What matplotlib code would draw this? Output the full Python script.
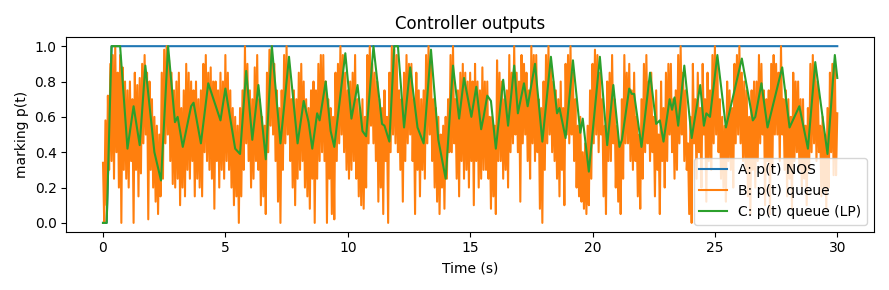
import numpy as np
import matplotlib
matplotlib.use("Agg")
import matplotlib.pyplot as plt

# A: p(t) NOS - a step up to 1 right at the start
t_a = [0.0, 0.15, 0.35, 30.0]
p_a = [0.0, 0.0, 1.0, 1.0]

t_b = np.linspace(0, 30, 601)
p_b = [
    0.34, 0.00, 0.58, 0.10, 0.72, 0.30, 0.90, 0.35, 0.95, 0.25, 1.00, 0.40, 0.85, 0.20, 0.95, 0.00, 0.88, 0.30, 0.80, 0.25,
    0.75, 0.20, 0.80, 0.35, 0.70, 0.00, 0.85, 0.30, 0.78, 0.15, 0.82, 0.28, 0.90, 0.45, 0.95, 0.50, 0.85, 0.02, 0.80, 0.30,
    0.70, 0.20, 0.60, 0.12, 0.55, 0.05, 0.50, 0.15, 0.85, 0.25, 0.98, 0.45, 1.00, 0.50, 0.92, 0.35, 0.85, 0.22, 0.75, 0.20,
    0.80, 0.25, 0.85, 0.10, 0.65, 0.20, 0.75, 0.15, 0.90, 0.30, 0.85, 0.25, 0.80, 0.35, 0.75, 0.15, 0.80, 0.25, 0.70, 0.20,
    0.75, 0.15, 0.90, 0.40, 0.95, 0.35, 0.85, 0.30, 0.88, 0.25, 0.80, 0.08, 0.80, 0.35, 0.75, 0.20, 0.85, 0.30, 0.80, 0.25,
    0.95, 0.35, 0.85, 0.30, 0.75, 0.20, 0.65, 0.10, 0.60, 0.15, 0.55, 0.00, 0.65, 0.15, 0.75, 0.30, 1.00, 0.45, 0.90, 0.35,
    0.75, 0.20, 0.70, 0.25, 0.88, 0.35, 0.95, 0.30, 0.70, 0.10, 0.60, 0.15, 0.55, 0.05, 0.85, 0.40, 0.98, 0.55, 1.00, 0.50,
    0.90, 0.35, 0.75, 0.12, 0.65, 0.00, 0.75, 0.30, 0.95, 0.45, 1.00, 0.50, 0.90, 0.35, 0.70, 0.20, 0.75, 0.10, 0.70, 0.25,
    0.85, 0.30, 0.90, 0.35, 0.80, 0.20, 0.70, 0.15, 0.65, 0.08, 0.75, 0.25, 0.80, 0.00, 0.75, 0.25, 0.90, 0.35, 0.95, 0.40,
    0.95, 0.35, 0.80, 0.00, 0.70, 0.25, 0.65, 0.05, 0.60, 0.02, 0.85, 0.35, 0.90, 0.45, 1.00, 0.50, 0.95, 0.40, 0.85, 0.30,
    0.75, 0.25, 0.80, 0.30, 0.85, 0.35, 0.95, 0.25, 0.70, 0.15, 0.65, 0.10, 0.70, 0.08, 0.60, 0.20, 0.95, 0.45, 1.00, 0.55,
    0.90, 0.45, 0.85, 0.35, 0.80, 0.12, 0.70, 0.20, 0.65, 0.05, 0.75, 0.35, 0.60, 0.00, 0.85, 0.40, 1.00, 0.50, 0.98, 0.45,
    0.95, 0.40, 0.75, 0.30, 0.70, 0.12, 0.85, 0.35, 0.95, 0.45, 0.90, 0.50, 0.90, 0.35, 0.70, 0.05, 0.85, 0.30, 0.75, 0.15,
    0.70, 0.30, 0.75, 0.25, 0.95, 0.45, 1.00, 0.50, 0.90, 0.35, 0.70, 0.20, 0.65, 0.12, 0.60, 0.05, 0.50, 0.20, 0.55, 0.08,
    0.60, 0.25, 0.70, 0.40, 0.95, 0.40, 1.00, 0.45, 0.70, 0.25, 0.75, 0.15, 0.85, 0.35, 0.90, 0.25, 0.85, 0.30, 0.80, 0.20,
    0.85, 0.35, 0.80, 0.10, 0.90, 0.35, 0.80, 0.20, 0.75, 0.25, 0.88, 0.30, 0.80, 0.30, 0.80, 0.25, 0.60, 0.08, 0.60, 0.15,
    0.55, 0.05, 0.92, 0.35, 0.85, 0.35, 0.80, 0.25, 0.70, 0.30, 0.75, 0.20, 0.95, 0.40, 0.85, 0.45, 1.00, 0.50, 0.85, 0.40,
    0.80, 0.12, 0.95, 0.45, 0.90, 0.50, 0.85, 0.35, 0.75, 0.25, 1.00, 0.45, 0.95, 0.35, 0.95, 0.40, 0.70, 0.08, 0.65, 0.00,
    0.80, 0.30, 0.95, 0.45, 1.00, 0.50, 0.90, 0.40, 0.80, 0.35, 0.75, 0.25, 0.70, 0.15, 0.80, 0.30, 0.65, 0.10, 0.90, 0.50,
    0.95, 0.45, 1.00, 0.50, 0.85, 0.35, 0.70, 0.20, 0.55, 0.15, 0.60, 0.12, 0.40, 0.08, 0.45, 0.05, 0.55, 0.10, 0.75, 0.25,
    0.90, 0.45, 0.98, 0.50, 0.95, 0.40, 0.85, 0.50, 0.70, 0.15, 0.55, 0.05, 0.80, 0.35, 0.85, 0.35, 0.95, 0.45, 0.70, 0.20,
    0.55, 0.12, 0.45, 0.05, 0.70, 0.25, 0.95, 0.45, 0.85, 0.45, 0.90, 0.35, 0.75, 0.30, 0.85, 0.35, 0.60, 0.15, 0.50, 0.08,
    0.70, 0.25, 0.90, 0.40, 0.95, 0.45, 0.80, 0.35, 0.85, 0.40, 0.60, 0.15, 0.75, 0.30, 0.50, 0.05, 0.80, 0.35, 0.65, 0.20,
    0.85, 0.35, 0.90, 0.50, 0.90, 0.40, 0.70, 0.25, 0.75, 0.30, 0.95, 0.45, 1.00, 0.50, 0.85, 0.35, 0.75, 0.30, 0.45, 0.05,
    0.60, 0.00, 0.90, 0.45, 0.70, 0.25, 0.85, 0.40, 0.65, 0.20, 0.90, 0.50, 0.70, 0.12, 0.85, 0.35, 0.75, 0.30, 0.95, 0.45,
    1.00, 0.50, 0.90, 0.40, 0.70, 0.25, 0.60, 0.20, 0.55, 0.12, 0.80, 0.35, 0.75, 0.30, 0.65, 0.20, 0.90, 0.45, 0.95, 0.50,
    1.00, 0.45, 0.85, 0.35, 0.80, 0.30, 0.75, 0.15, 0.60, 0.05, 0.75, 0.30, 0.80, 0.20, 0.80, 0.35, 0.95, 0.45, 0.90, 0.50,
    0.75, 0.10, 0.70, 0.35, 0.75, 0.05, 0.90, 0.30, 0.95, 0.50, 0.90, 0.50, 0.85, 0.35, 1.00, 0.50, 0.70, 0.30, 0.75, 0.15,
    0.70, 0.25, 0.60, 0.08, 0.85, 0.35, 0.80, 0.40, 0.80, 0.30, 0.70, 0.20, 0.70, 0.25, 0.55, 0.10, 0.65, 0.30, 0.90, 0.40,
    0.95, 0.45, 0.85, 0.35, 0.80, 0.40, 0.55, 0.15, 0.60, 0.20, 0.50, 0.08, 0.65, 0.20, 0.85, 0.40, 0.90, 0.27, 0.90, 0.27,
    0.62,
]

# C: p(t) queue (LP) - peaks and valleys of the smoothed curve
t_c = [0.0, 0.15, 0.35, 0.7, 1.0, 1.25, 1.5, 1.73, 2.1, 2.37,
       2.66, 2.94, 3.05, 3.26, 3.6, 3.7, 4.0, 4.3, 4.8, 5.0,
       5.4, 5.6, 5.85, 6.1, 6.35, 6.65, 6.9, 7.25, 7.6, 7.95,
       8.2, 8.4, 8.55, 8.75, 8.85, 9.1, 9.3, 9.45, 9.9, 10.15,
       10.4, 10.6, 10.75, 11.05, 11.4, 11.5, 11.7, 11.9, 12.05, 12.3,
       12.55, 12.85, 13.1, 13.4, 13.7, 14.0, 14.3, 14.55, 14.75, 15.05,
       15.25, 15.45, 15.55, 15.7, 15.85, 16.05, 16.35, 16.55, 16.8, 16.95,
       17.2, 17.35, 17.65, 17.95, 18.3, 18.55, 18.65, 18.9, 19.2, 19.5,
       19.6, 19.85, 20.3, 20.6, 20.85, 21.1, 21.2, 21.5, 21.6, 21.7,
       22.0, 22.35, 22.6, 22.75, 22.9, 23.15, 23.25, 23.35, 23.5, 23.75,
       24.05, 24.4, 24.55, 24.65, 24.8, 25.1, 25.45, 26.1, 26.55, 26.65,
       26.9, 27.15, 27.75, 28.05, 28.45, 28.8, 29.1, 29.6, 29.9, 30.0]
p_c = [0.0, 0.0, 1.0, 1.0, 0.42, 0.66, 0.44, 0.89, 0.40, 0.24,
       1.0, 0.57, 0.60, 0.43, 0.66, 0.68, 0.45, 0.79, 0.58, 0.76,
       0.42, 0.39, 0.86, 0.47, 0.78, 0.36, 1.0, 0.45, 0.94, 0.45,
       0.69, 0.57, 0.42, 0.62, 0.58, 0.80, 0.52, 0.43, 0.96, 0.59,
       0.78, 0.52, 0.49, 1.0, 0.56, 0.55, 0.46, 1.0, 1.0, 0.54,
       0.88, 0.54, 0.45, 0.98, 0.47, 0.25, 0.89, 0.59, 0.82, 0.60,
       0.77, 0.53, 0.60, 0.72, 0.69, 0.42, 0.81, 0.55, 0.89, 0.62,
       0.79, 0.66, 0.90, 0.46, 0.94, 0.62, 0.65, 0.48, 0.92, 0.51,
       0.59, 0.29, 0.94, 0.44, 0.78, 0.43, 0.47, 0.76, 0.73, 0.73,
       0.43, 0.85, 0.56, 0.58, 0.46, 0.70, 0.64, 0.71, 0.55, 0.89,
       0.48, 0.78, 0.55, 0.62, 0.60, 0.95, 0.54, 0.93, 0.58, 0.60,
       0.79, 0.54, 0.88, 0.54, 0.66, 0.42, 0.91, 0.39, 0.95, 0.82]

fig = plt.figure(figsize=(8.89, 2.9), dpi=100)
plt.plot(t_a, p_a, label="A: p(t) NOS")
plt.plot(t_b, p_b, label="B: p(t) queue")
plt.plot(t_c, p_c, label="C: p(t) queue (LP)")
plt.title("Controller outputs")
plt.xlabel("Time (s)")
plt.ylabel("marking p(t)")
plt.legend(loc="lower right")
plt.tight_layout()
plt.savefig("out.png")
